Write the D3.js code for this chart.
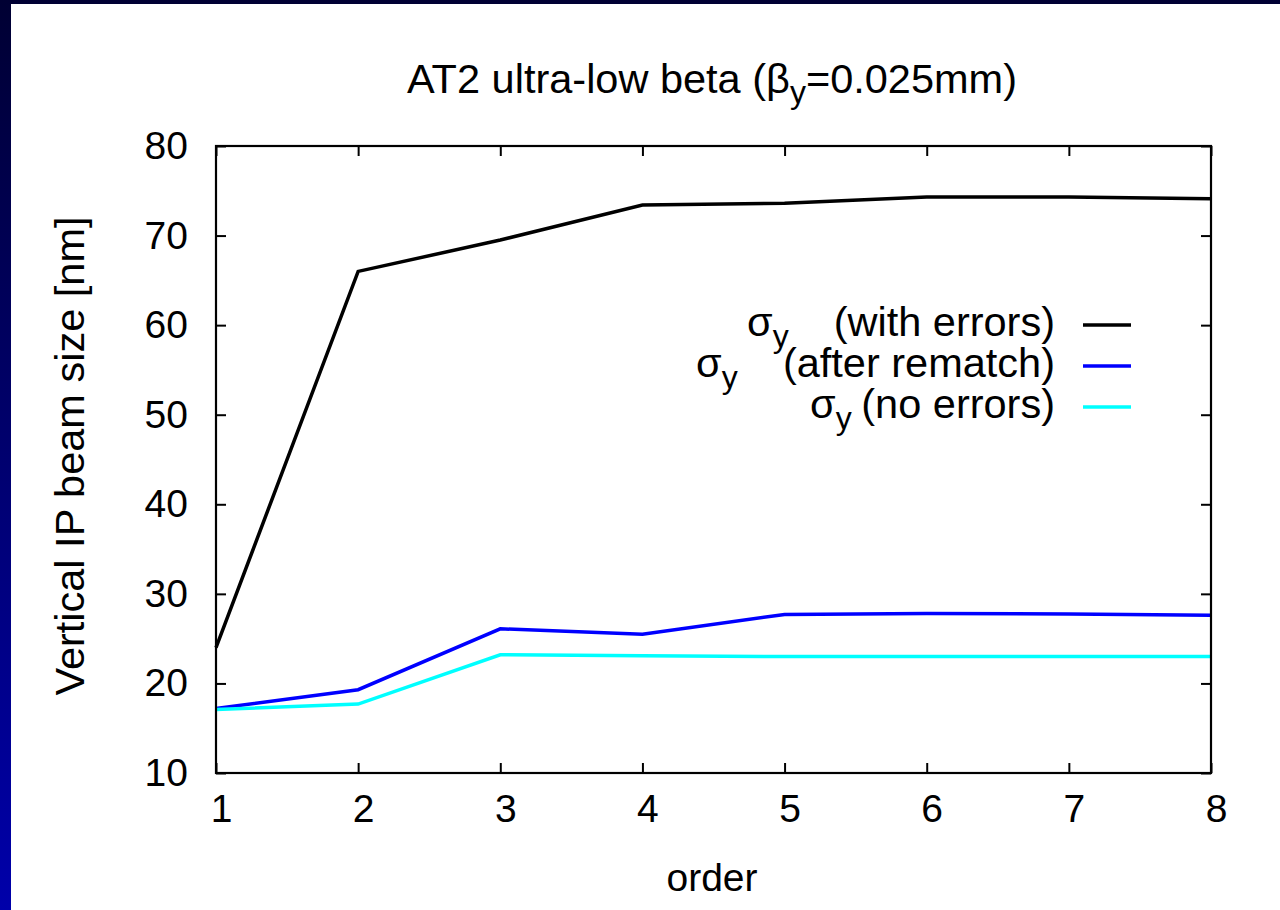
<!DOCTYPE html>
<html>
<head>
<meta charset="utf-8">
<script src="https://cdn.jsdelivr.net/npm/d3@7/dist/d3.min.js"></script>
<style>
  html, body { margin: 0; padding: 0; background: #000033; }
  svg { display: block; }
  text { font-family: "Liberation Sans", Arial, Helvetica, sans-serif; fill: #000; }
</style>
</head>
<body>
<svg id="chart" width="1280" height="910"></svg>
<script>
// Beam size vs. correction order
const orders = [1, 2, 3, 4, 5, 6, 7, 8];
const withErrors   = [24.0, 66.0, 69.5, 73.4, 73.6, 74.3, 74.3, 74.1];
const afterRematch = [17.2, 19.3, 26.1, 25.5, 27.7, 27.8, 27.75, 27.6];
const noErrors     = [17.1, 17.7, 23.2, 23.1, 23.0, 23.0, 23.0, 23.0];
const xTicks = [1, 2, 3, 4, 5, 6, 7, 8];
const yTicks = [10, 20, 30, 40, 50, 60, 70, 80];

const series = [
  { name: "with errors",   values: withErrors,   color: "#000000" },
  { name: "after rematch", values: afterRematch, color: "#0000ff" },
  { name: "no errors",     values: noErrors,     color: "#00ffff" }
];

(function draw() {
  const W = 1280, H = 910;
  const svg = d3.select("#chart");
  const FS = 39;      // tick labels, x title
  const FL = 41.5;    // title, y title, legend
  const FSUB = 32;

  // slide-style frame: navy gradient behind a white panel
  const defs = svg.append("defs");
  const grad = defs.append("linearGradient").attr("id", "frameGrad")
    .attr("x1", 0).attr("y1", 0).attr("x2", 0).attr("y2", 1);
  grad.append("stop").attr("offset", "0%").attr("stop-color", "#000033");
  grad.append("stop").attr("offset", "100%").attr("stop-color", "#0000aa");
  svg.append("rect").attr("width", W).attr("height", H).attr("fill", "url(#frameGrad)");
  svg.append("rect").attr("x", 11).attr("y", 4).attr("width", W - 11).attr("height", H - 4)
    .attr("fill", "#ffffff");

  const pLeft = 216, pRight = 1211, pTop = 146, pBottom = 773;
  const x = d3.scaleLinear().domain([1, 8]).range([pLeft, pRight]);
  const y = d3.scaleLinear().domain([10, 80]).range([pBottom, pTop]);

  const tickLen = 10;
  const fontFam = "Liberation Sans, Arial, sans-serif";

  // bottom axis (labels) and top mirror ticks
  const xAxis = d3.axisBottom(x).tickValues(xTicks).tickFormat(d3.format("d"))
    .tickSizeInner(-tickLen).tickSizeOuter(0).tickPadding(28);
  const gx = svg.append("g").attr("transform", `translate(0,${pBottom})`).call(xAxis);
  gx.select(".domain").remove();
  gx.selectAll("text").attr("font-size", FS).attr("dx", 5).attr("dy", "0.55em")
    .attr("font-family", fontFam).attr("fill", "#000");

  const xTop = d3.axisTop(x).tickValues(xTicks).tickFormat("")
    .tickSizeInner(-tickLen).tickSizeOuter(0);
  const gxt = svg.append("g").attr("transform", `translate(0,${pTop})`).call(xTop);
  gxt.select(".domain").remove();

  // left axis (labels) and right mirror ticks
  const yAxis = d3.axisLeft(y).tickValues(yTicks).tickFormat(d3.format("d"))
    .tickSizeInner(-tickLen).tickSizeOuter(0).tickPadding(28);
  const gy = svg.append("g").attr("transform", `translate(${pLeft},0)`).call(yAxis);
  gy.select(".domain").remove();
  gy.selectAll("text").attr("font-size", FS)
    .attr("font-family", fontFam).attr("fill", "#000");

  const yRight = d3.axisRight(y).tickValues(yTicks).tickFormat("")
    .tickSizeInner(-tickLen).tickSizeOuter(0);
  const gyr = svg.append("g").attr("transform", `translate(${pRight},0)`).call(yRight);
  gyr.select(".domain").remove();

  svg.selectAll(".tick line").attr("stroke", "#000").attr("stroke-width", 2);

  // data lines
  const line = d3.line().x((d, i) => x(orders[i])).y(d => y(d));
  series.forEach(s => {
    svg.append("path").datum(s.values)
      .attr("d", line)
      .attr("fill", "none")
      .attr("stroke", s.color)
      .attr("stroke-width", 3.5)
      .attr("stroke-linejoin", "miter");
  });

  // plot border
  svg.append("rect").attr("x", pLeft).attr("y", pTop)
    .attr("width", pRight - pLeft).attr("height", pBottom - pTop)
    .attr("fill", "none").attr("stroke", "#000").attr("stroke-width", 2.2);

  // title
  const title = svg.append("text").attr("x", 712).attr("y", 93)
    .attr("text-anchor", "middle").attr("font-size", FL);
  title.append("tspan").text("AT2 ultra-low beta (\u03b2");
  title.append("tspan").attr("font-size", FSUB).attr("dy", 10).text("y");
  title.append("tspan").attr("dy", -10).text("=0.025mm)");

  // axis titles
  svg.append("text").attr("x", 712).attr("y", 891)
    .attr("text-anchor", "middle").attr("font-size", FS).text("order");
  svg.append("text")
    .attr("transform", "translate(84,456) rotate(-90)")
    .attr("text-anchor", "middle").attr("font-size", FL)
    .text("Vertical IP beam size [nm]");

  // legend
  const legendRows = [
    { label: "(with errors)",   sigmaX: 747, baseline: 336 },
    { label: "(after rematch)", sigmaX: 696, baseline: 377 },
    { label: "(no errors)",     sigmaX: 810, baseline: 418 }
  ];
  const textRight = 1055, keyX0 = 1083, keyX1 = 1131;
  legendRows.forEach((r, i) => {
    const sym = svg.append("text").attr("x", r.sigmaX).attr("y", r.baseline)
      .attr("font-size", FL);
    sym.append("tspan").text("\u03c3");
    sym.append("tspan").attr("font-size", FSUB).attr("dy", 11).text("y");
    svg.append("text").attr("x", textRight).attr("y", r.baseline)
      .attr("text-anchor", "end").attr("font-size", FL).text(r.label);
    svg.append("line")
      .attr("x1", keyX0).attr("x2", keyX1)
      .attr("y1", r.baseline - 11).attr("y2", r.baseline - 11)
      .attr("stroke", series[i].color).attr("stroke-width", 3.5);
  });
})();
</script>
</body>
</html>
